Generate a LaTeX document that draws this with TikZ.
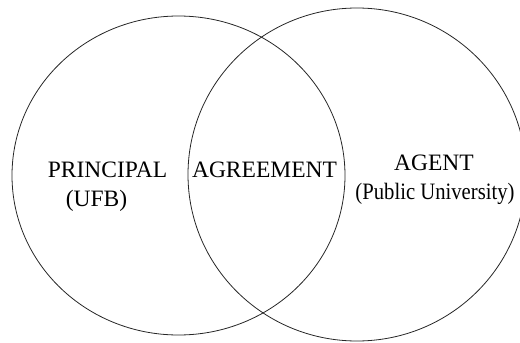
\documentclass[tikz,border=0pt]{standalone}
\usepackage{fontspec}
\setmainfont{Liberation Serif}
\tikzset{
    set circle/.style={
        draw=black!85,line width=.8pt
    },
    set label/.style={
        inner sep=0pt,anchor=base,
        font=\fontsize{23.5}{28}\selectfont
    }
}

\begin{document}
\begin{tikzpicture}[x=1pt,y=-1pt]
\useasboundingbox (0,0) rectangle (520,343);
% the two sets
\draw[set circle] (178.5,175.5) ellipse [x radius=166.5,y radius=159.5];
\draw[set circle] (357,174.5) ellipse [x radius=169,y radius=166.5];
% labels
\node[set label] (principal) at (107.5,177) {PRINCIPAL};
\node[set label] (ufb) at (96.5,206) {(UFB)};
\node[set label] (agreement) at (264.5,177.5) {AGREEMENT};
\node[set label] (agent) at (434,170) {AGENT};
\node[set label] (univ) at (435,199) {\scalebox{.88}[1]{(Public University)}};
\end{tikzpicture}
\end{document}
